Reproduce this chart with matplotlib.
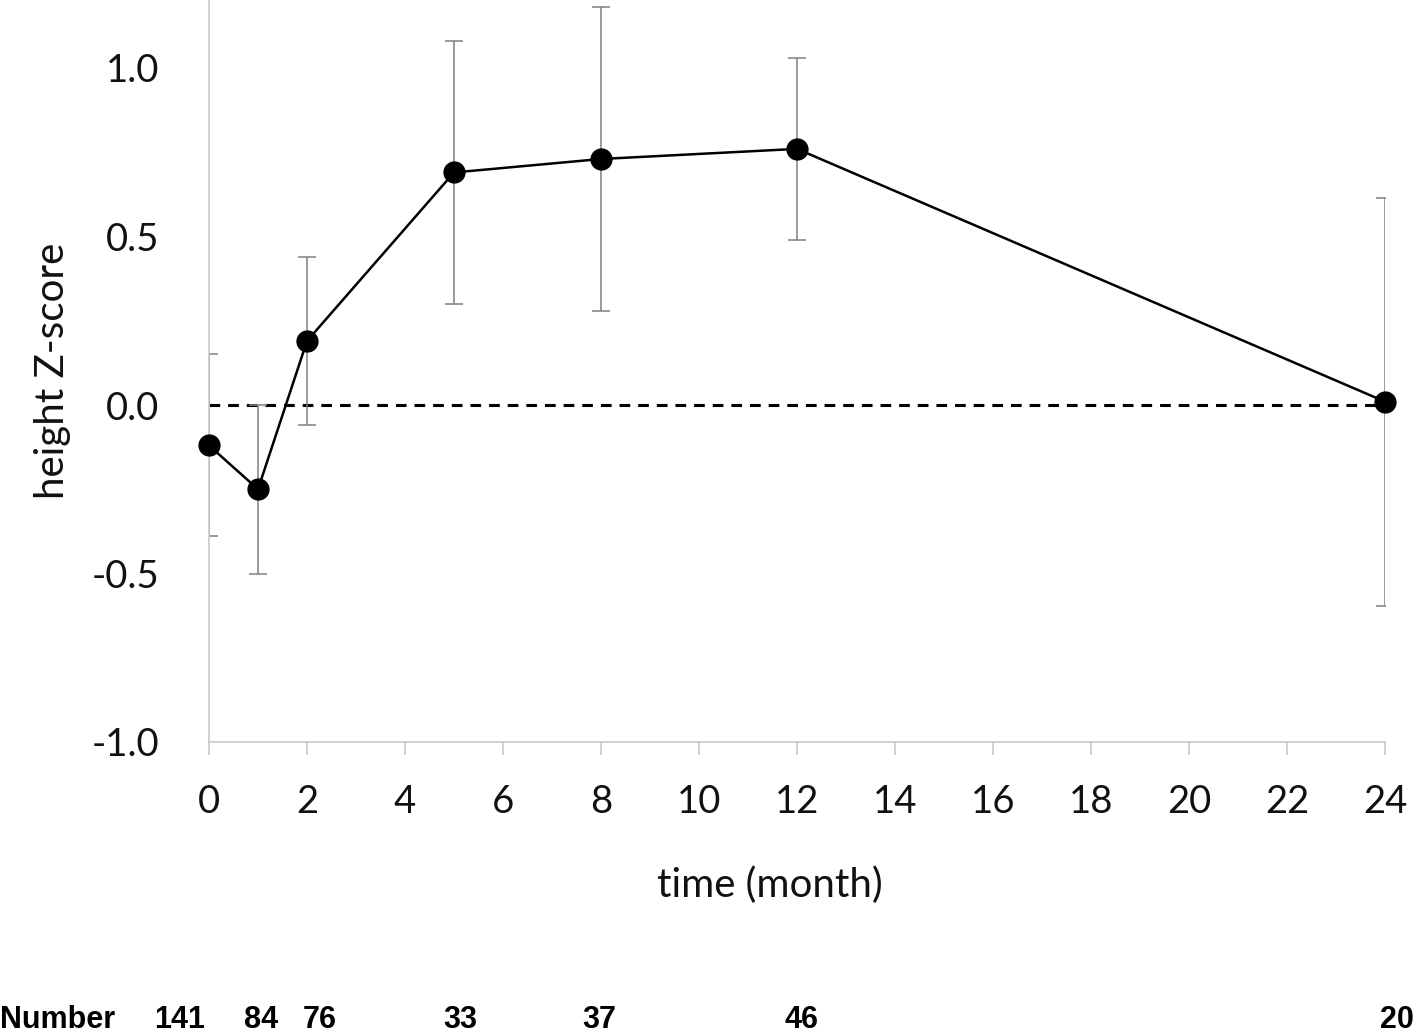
import matplotlib.pyplot as plt
import matplotlib.transforms as mtransforms

# height Z-score over time
months = [0, 1, 2, 5, 8, 12, 24]
zscore = [-0.12, -0.25, 0.19, 0.69, 0.73, 0.76, 0.01]
err = [0.27, 0.25, 0.25, 0.39, 0.45, 0.27, 0.605]
numbers = [141, 84, 76, 33, 37, 46, 20]

# where the "Number" row labels sit (in month units)
num_pos = [-0.59, 1.06, 2.27, 5.12, 7.96, 12.1, 24.24]

plt.rcParams['font.family'] = ['Lato', 'DejaVu Sans']

fig = plt.figure(figsize=(14.16, 10.36), dpi=100)
ax = fig.add_axes([209 / 1416, 1 - 742 / 1036, 1176 / 1416, 741.4 / 1036])

grey = '#808080'
ax.errorbar(months, zscore, yerr=err, fmt='none', ecolor=grey, elinewidth=1.1,
            capsize=6.5, capthick=1.1, zorder=2)
ax.axhline(0, color='black', lw=2.2, dashes=(3.5, 2.6), zorder=1)
ax.plot(months, zscore, color='black', lw=1.8, marker='o', markersize=15,
        clip_on=False, zorder=3)

ax.set_xlim(0, 24)
ax.set_ylim(-1.0, 1.2)
ax.set_xticks(range(0, 25, 2))
ax.set_yticks([-1.0, -0.5, 0.0, 0.5, 1.0])
ax.set_yticklabels(['-1.0', '-0.5', '0.0', '0.5', '1.0'])

for s in ['top', 'right']:
    ax.spines[s].set_visible(False)
for s in ['left', 'bottom']:
    ax.spines[s].set_color('#c8c8c8')
    ax.spines[s].set_linewidth(1.2)

ax.tick_params(axis='x', length=9, width=1.2, color='#c8c8c8', pad=21,
               labelsize=27.5, labelcolor='#111111')
ax.tick_params(axis='y', length=0, pad=36, labelsize=27.5, labelcolor='#111111')

ax.set_xlabel('time (month)', fontsize=29, color='#111111')
ax.xaxis.set_label_coords(0.477, -0.168)
ax.set_ylabel('height Z-score', fontsize=29, color='#111111')
ax.yaxis.set_label_coords(-0.117, 0.5)

# sample size row along the bottom
trans = mtransforms.blended_transform_factory(ax.transData, fig.transFigure)
fig.text(0.0, 0.001, 'Number', fontsize=22, fontweight='bold',
         family=['Liberation Sans', 'DejaVu Sans'], ha='left', va='bottom')
for p, n in zip(num_pos, numbers):
    fig.text(p, 0.001, str(n), transform=trans, fontsize=22, fontweight='bold',
             family=['Liberation Sans', 'DejaVu Sans'], ha='center',
             va='bottom')

fig.savefig('out.png', dpi=100)
